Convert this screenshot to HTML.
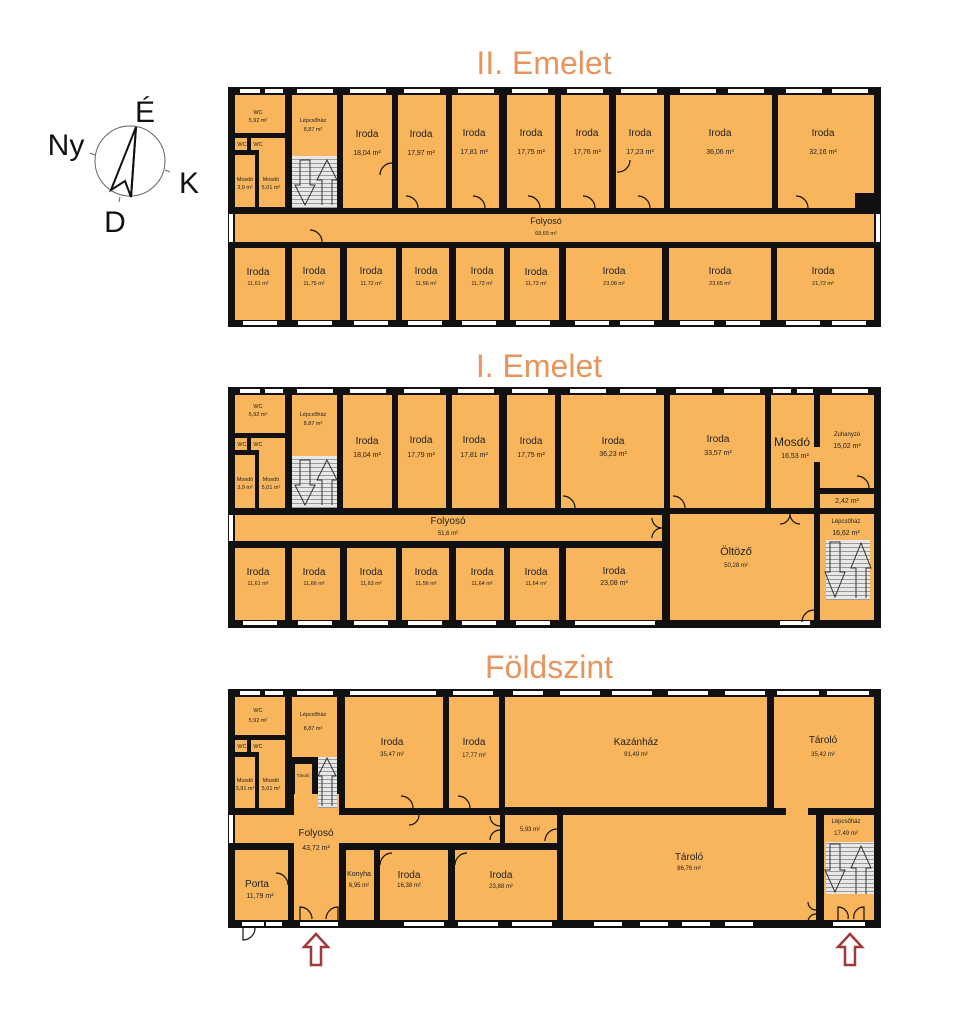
<!DOCTYPE html>
<html><head><meta charset="utf-8"><style>
body{margin:0;background:#fff}
svg text{font-family:"Liberation Sans",sans-serif;fill:#222;text-anchor:middle}
.r{fill:#f8b55b}
.w{fill:#fff}
.t{font-size:10px}
.s{font-size:5.5px}
.h{font-family:"Liberation Sans",sans-serif;fill:#e8945c;font-size:32px}
.d{fill:none;stroke:#111;stroke-width:1.2}
.a{fill:none;stroke:#333;stroke-width:1}
</style></head><body>
<svg width="961" height="1023" viewBox="0 0 961 1023" xmlns="http://www.w3.org/2000/svg">
<defs>
<pattern id="st" width="6" height="4" patternUnits="userSpaceOnUse"><rect width="6" height="4" fill="#e8e8e8"/><rect y="3" width="6" height="1" fill="#999"/></pattern>
</defs>
<text class="h" x="544" y="74" style="text-anchor:middle;fill:#e8945c">II. Emelet</text>
<text class="h" x="539" y="377" style="text-anchor:middle;fill:#e8945c">I. Emelet</text>
<text class="h" x="549" y="678" style="text-anchor:middle;fill:#e8945c">Földszint</text>

<circle cx="130" cy="161" r="35" fill="none" stroke="#666" stroke-width="1"/>
<path d="M136 127 L111 190 L125 181 L131 197 Z" fill="none" stroke="#111" stroke-width="2"/>
<line x1="136" y1="127" x2="131" y2="197" stroke="#111" stroke-width="2"/>
<line x1="90" y1="153" x2="95" y2="155" stroke="#666"/><line x1="165" y1="170" x2="170" y2="172" stroke="#666"/><line x1="120" y1="197" x2="119" y2="202" stroke="#666"/>
<text x="145" y="122" style="font-size:30px;fill:#111">É</text>
<text x="66" y="155" style="font-size:30px;fill:#111">Ny</text>
<text x="189" y="193" style="font-size:30px;fill:#111">K</text>
<text x="115" y="232" style="font-size:30px;fill:#111">D</text>

<!-- II -->
<rect x="228" y="87" width="653" height="240" fill="#111"/>
<g class="r">
<rect x="235" y="95" width="50" height="38"/>
<rect x="235" y="138" width="12" height="12"/><rect x="251" y="138" width="14" height="12"/>
<rect x="235" y="155" width="20" height="52"/><rect x="259" y="138" width="26" height="69" />
<rect x="292" y="95" width="45" height="113"/>
<rect x="343" y="95" width="49" height="113"/><rect x="398" y="95" width="48" height="113"/>
<rect x="452" y="95" width="47" height="113"/><rect x="507" y="95" width="48" height="113"/>
<rect x="561" y="95" width="48" height="113"/><rect x="616" y="95" width="48" height="113"/>
<rect x="670" y="95" width="102" height="113"/><rect x="778" y="95" width="96" height="113"/>
<rect x="235" y="214" width="639" height="28"/>
<rect x="235" y="248" width="50" height="72"/><rect x="292" y="248" width="48" height="72"/>
<rect x="347" y="248" width="49" height="72"/><rect x="402" y="248" width="47" height="72"/>
<rect x="456" y="248" width="48" height="72"/><rect x="510" y="248" width="49" height="72"/>
<rect x="566" y="248" width="96" height="72"/><rect x="669" y="248" width="102" height="72"/>
<rect x="777" y="248" width="97" height="72"/>
</g>
<rect x="292" y="156" width="45" height="52" fill="url(#st)"/>
<path class="a" d="M300 160 v25 h-5 l10 20 l10 -20 h-5 v-25 z M322 205 v-25 h-5 l10 -20 l10 20 h-5 v25"/>
<rect x="855" y="193" width="19" height="15" fill="#111"/>
<g class="w">
<rect x="240" y="89" width="20" height="4"/><rect x="265" y="89" width="18" height="4"/><rect x="297" y="89" width="36" height="4"/>
<rect x="350" y="89" width="36" height="4"/><rect x="404" y="89" width="36" height="4"/><rect x="458" y="89" width="36" height="4"/><rect x="512" y="89" width="36" height="4"/><rect x="567" y="89" width="36" height="4"/><rect x="621" y="89" width="36" height="4"/><rect x="680" y="89" width="36" height="4"/><rect x="728" y="89" width="36" height="4"/><rect x="786" y="89" width="36" height="4"/><rect x="832" y="89" width="36" height="4"/>
<rect x="243" y="321" width="34" height="4"/><rect x="298" y="321" width="34" height="4"/><rect x="354" y="321" width="34" height="4"/><rect x="408" y="321" width="34" height="4"/><rect x="462" y="321" width="34" height="4"/><rect x="516" y="321" width="34" height="4"/><rect x="575" y="321" width="34" height="4"/><rect x="620" y="321" width="34" height="4"/><rect x="680" y="321" width="34" height="4"/><rect x="726" y="321" width="34" height="4"/><rect x="786" y="321" width="34" height="4"/><rect x="832" y="321" width="34" height="4"/>
<rect x="229" y="214" width="4" height="28"/><rect x="876" y="214" width="4" height="28"/>
</g>
<path class="d" d="M380 175 a12 12 0 0 1 12 -12 M617 172 a12 12 0 0 0 13 -12 M418 208 a12 12 0 0 0 -12 -12 M485 208 a12 12 0 0 0 -12 -12 M540 208 a12 12 0 0 0 -12 -12 M595 208 a12 12 0 0 0 -12 -12 M650 208 a12 12 0 0 0 -12 -12 M808 208 a12 12 0 0 0 -12 -12 M322 242 a12 12 0 0 0 -12 -12"/>
<text class="s" x="258" y="114">WC</text><text class="s" x="258" y="122">5,92 m²</text>
<text class="s" x="313" y="122">Lépcsőház</text><text class="s" x="313" y="131">8,87 m²</text>
<text class="s" x="242" y="146">WC</text><text class="s" x="258" y="146">WC</text>
<text class="s" x="245" y="181">Mosdó</text><text class="s" x="245" y="189">3,9 m²</text>
<text class="s" x="271" y="181">Mosdó</text><text class="s" x="271" y="189">5,01 m²</text>
<g class="t"><text x="367" y="137">Iroda</text><text x="421" y="137">Iroda</text><text x="474" y="136">Iroda</text><text x="531" y="136">Iroda</text><text x="587" y="136">Iroda</text><text x="640" y="136">Iroda</text><text x="720" y="136">Iroda</text><text x="823" y="136">Iroda</text></g>
<g class="s" style="font-size:7px"><text x="367" y="155">18,04 m²</text><text x="421" y="155">17,97 m²</text><text x="474" y="154">17,81 m²</text><text x="531" y="154">17,75 m²</text><text x="587" y="154">17,76 m²</text><text x="640" y="154">17,23 m²</text><text x="720" y="154">36,06 m³</text><text x="823" y="154">32,16 m²</text></g>
<text x="546" y="224" style="font-size:9px">Folyosó</text><text class="s" x="546" y="235">68,65 m²</text>
<g class="t"><text x="258" y="275">Iroda</text><text x="314" y="274">Iroda</text><text x="371" y="274">Iroda</text><text x="426" y="274">Iroda</text><text x="482" y="274">Iroda</text><text x="536" y="275">Iroda</text><text x="614" y="274">Iroda</text><text x="720" y="274">Iroda</text><text x="823" y="274">Iroda</text></g>
<g class="s"><text x="258" y="285">11,61 m²</text><text x="314" y="285">11,75 m²</text><text x="371" y="285">11,72 m²</text><text x="426" y="285">11,56 m²</text><text x="482" y="285">11,73 m²</text><text x="536" y="285">11,73 m²</text><text x="614" y="285">23,08 m²</text><text x="720" y="285">23,65 m²</text><text x="823" y="285">21,72 m²</text></g>

<!-- I -->
<rect x="228" y="387" width="653" height="241" fill="#111"/>
<g class="r">
<rect x="235" y="395" width="50" height="38"/>
<rect x="235" y="438" width="12" height="12"/><rect x="251" y="438" width="14" height="12"/>
<rect x="235" y="455" width="20" height="53"/><rect x="259" y="438" width="26" height="70"/>
<rect x="292" y="395" width="45" height="113"/>
<rect x="343" y="395" width="49" height="113"/><rect x="398" y="395" width="48" height="113"/>
<rect x="452" y="395" width="47" height="113"/><rect x="507" y="395" width="48" height="113"/>
<rect x="561" y="395" width="103" height="113"/><rect x="670" y="395" width="95" height="113"/>
<rect x="771" y="395" width="43" height="113"/><rect x="820" y="395" width="54" height="93"/>
<rect x="808" y="447" width="20" height="15"/>
<rect x="820" y="494" width="54" height="14"/>
<rect x="235" y="515" width="427" height="26"/>
<rect x="670" y="514" width="144" height="106"/><rect x="820" y="514" width="54" height="106"/>
<rect x="235" y="548" width="50" height="72"/><rect x="292" y="548" width="48" height="72"/>
<rect x="347" y="548" width="49" height="72"/><rect x="402" y="548" width="47" height="72"/>
<rect x="456" y="548" width="48" height="72"/><rect x="510" y="548" width="49" height="72"/>
<rect x="566" y="548" width="96" height="72"/>
</g>
<rect x="292" y="456" width="45" height="52" fill="url(#st)"/>
<path class="a" d="M300 460 v25 h-5 l10 20 l10 -20 h-5 v-25 z M322 505 v-25 h-5 l10 -20 l10 20 h-5 v25"/>
<rect x="826" y="540" width="44" height="60" fill="url(#st)"/>
<path class="a" d="M830 542 v30 h-5 l10 25 l10 -25 h-5 v-30 z M856 598 v-30 h-5 l10 -25 l10 25 h-5 v30"/>
<g class="w">
<rect x="240" y="389" width="20" height="4"/><rect x="265" y="389" width="18" height="4"/><rect x="297" y="389" width="36" height="4"/>
<rect x="350" y="389" width="36" height="4"/><rect x="404" y="389" width="36" height="4"/><rect x="458" y="389" width="36" height="4"/><rect x="512" y="389" width="36" height="4"/><rect x="570" y="389" width="36" height="4"/><rect x="620" y="389" width="36" height="4"/><rect x="676" y="389" width="36" height="4"/><rect x="724" y="389" width="36" height="4"/><rect x="773" y="389" width="18" height="4"/><rect x="797" y="389" width="16" height="4"/><rect x="832" y="389" width="36" height="4"/>
<rect x="243" y="621" width="34" height="4"/><rect x="298" y="621" width="34" height="4"/><rect x="354" y="621" width="34" height="4"/><rect x="408" y="621" width="34" height="4"/><rect x="462" y="621" width="34" height="4"/><rect x="516" y="621" width="34" height="4"/><rect x="575" y="621" width="80" height="4"/><rect x="780" y="621" width="30" height="4"/>
<rect x="229" y="515" width="4" height="26"/>
</g>
<path class="d" d="M575 508 a12 12 0 0 0 -12 -12 M685 508 a12 12 0 0 0 -12 -12 M869 488 a12 12 0 0 0 -12 -12 M662 528 a10 10 0 0 1 -10 -10 M662 528 a10 10 0 0 0 -10 10 M814 610 a12 12 0 0 0 -12 12 M790 514 a10 10 0 0 1 -10 10 M790 514 a10 10 0 0 0 10 10"/>
<text class="s" x="258" y="408">WC</text><text class="s" x="258" y="416">5,92 m²</text>
<text class="s" x="313" y="416">Lépcsőház</text><text class="s" x="313" y="425">8,87 m²</text>
<text class="s" x="242" y="446">WC</text><text class="s" x="258" y="446">WC</text>
<text class="s" x="245" y="481">Mosdó</text><text class="s" x="245" y="489">3,9 m²</text>
<text class="s" x="271" y="481">Mosdó</text><text class="s" x="271" y="489">5,01 m²</text>
<g class="t"><text x="367" y="444">Iroda</text><text x="421" y="443">Iroda</text><text x="474" y="443">Iroda</text><text x="531" y="444">Iroda</text><text x="613" y="444">Iroda</text><text x="718" y="442">Iroda</text><text x="792" y="446" style="font-size:12px">Mosdó</text></g>
<g class="s" style="font-size:7px"><text x="367" y="457">18,04 m²</text><text x="421" y="457">17,79 m²</text><text x="474" y="457">17,81 m²</text><text x="531" y="457">17,75 m²</text><text x="613" y="456">36,23 m²</text><text x="718" y="455">33,57 m²</text><text x="795" y="458">16,53 m²</text><text x="847" y="436" style="font-size:6px">Zuhanyzó</text><text x="847" y="448">15,02 m²</text><text x="847" y="503">2,42 m²</text><text x="846" y="523" style="font-size:6px">Lépcsőház</text><text x="846" y="535">16,62 m²</text></g>
<text x="448" y="524" style="font-size:10px">Folyosó</text><text class="s" x="448" y="535" style="font-size:6px">51,6 m²</text>
<text x="736" y="555" style="font-size:11px">Öltöző</text><text class="s" x="736" y="567" style="font-size:6px">50,28 m²</text>
<g class="t"><text x="258" y="575">Iroda</text><text x="314" y="575">Iroda</text><text x="371" y="575">Iroda</text><text x="426" y="575">Iroda</text><text x="482" y="575">Iroda</text><text x="536" y="575">Iroda</text><text x="614" y="574">Iroda</text></g>
<g class="s"><text x="258" y="585">11,61 m²</text><text x="314" y="585">11,66 m²</text><text x="371" y="585">11,63 m²</text><text x="426" y="585">11,56 m²</text><text x="482" y="585">11,64 m²</text><text x="536" y="585">11,64 m²</text><text x="614" y="585" style="font-size:7px">23,08 m²</text></g>

<!-- Földszint -->
<rect x="228" y="689" width="653" height="239" fill="#111"/>
<g class="r">
<rect x="235" y="697" width="50" height="38"/>
<rect x="235" y="740" width="12" height="12"/><rect x="251" y="740" width="14" height="12"/>
<rect x="235" y="757" width="20" height="51"/><rect x="259" y="740" width="26" height="68"/>
<rect x="292" y="697" width="45" height="60"/><rect x="295" y="764" width="17" height="30"/>
<rect x="345" y="697" width="98" height="111"/><rect x="449" y="697" width="50" height="111"/>
<rect x="505" y="697" width="262" height="110"/><rect x="774" y="697" width="100" height="111"/>
<rect x="786" y="805" width="22" height="12"/>
<rect x="235" y="815" width="265" height="28"/><rect x="294" y="794" width="45" height="126"/>
<rect x="505" y="815" width="52" height="28"/>
<rect x="563" y="815" width="253" height="105"/><rect x="824" y="815" width="50" height="105"/>
<rect x="235" y="850" width="53" height="70"/><rect x="346" y="850" width="28" height="70"/>
<rect x="380" y="850" width="68" height="70"/><rect x="455" y="850" width="102" height="70"/>
</g>
<rect x="318" y="757" width="19" height="51" fill="url(#st)"/>
<path class="a" d="M322 806 v-30 h-4 l9 -18 l9 18 h-4 v30"/>
<rect x="826" y="842" width="48" height="52" fill="url(#st)"/>
<path class="a" d="M830 844 v26 h-5 l10 22 l10 -22 h-5 v-26 z M856 894 v-26 h-5 l10 -22 l10 22 h-5 v26"/>
<g class="w">
<rect x="240" y="691" width="20" height="4"/><rect x="265" y="691" width="18" height="4"/><rect x="297" y="691" width="36" height="4"/>
<rect x="350" y="691" width="86" height="4"/><rect x="453" y="691" width="40" height="4"/><rect x="513" y="691" width="30" height="4"/><rect x="560" y="691" width="40" height="4"/><rect x="612" y="691" width="40" height="4"/><rect x="668" y="691" width="40" height="4"/><rect x="725" y="691" width="40" height="4"/><rect x="777" y="691" width="42" height="4"/><rect x="827" y="691" width="42" height="4"/>
<rect x="242" y="922" width="22" height="4"/><rect x="266" y="922" width="16" height="4"/><rect x="300" y="922" width="38" height="4"/><rect x="404" y="922" width="40" height="4"/><rect x="458" y="922" width="40" height="4"/><rect x="512" y="922" width="40" height="4"/>
<rect x="594" y="922" width="28" height="4"/><rect x="640" y="922" width="28" height="4"/><rect x="682" y="922" width="28" height="4"/><rect x="725" y="922" width="28" height="4"/><rect x="833" y="922" width="32" height="4"/>
<rect x="229" y="815" width="4" height="28"/>
</g>
<path class="d" d="M413 808 a12 12 0 0 0 -12 -12 M470 808 a12 12 0 0 0 -12 -12 M500 826 a10 10 0 0 1 -10 -10 M500 830 a10 10 0 0 0 -10 10 M557 829 a12 12 0 0 0 -12 12 M288 885 a12 12 0 0 0 -12 -12 M380 865 a12 12 0 0 1 12 -12 M455 865 a12 12 0 0 1 12 -12 M300 920 v-13 a12 12 0 0 1 12 12 M338 920 v-13 a12 12 0 0 0 -12 12 M838 920 v-13 a10 10 0 0 1 10 12 M864 920 v-13 a10 10 0 0 0 -10 12 M816 910 a8 8 0 0 1 -8 -8 M816 914 a8 8 0 0 0 -8 8 M243 928 v12 a12 12 0 0 0 12 -12 M419 815 a10 10 0 0 1 -10 10"/>
<path d="M316 934 L304 947 L311 947 L311 965 L321 965 L321 947 L328 947 Z" fill="none" stroke="#a03a3a" stroke-width="2.5"/>
<path d="M850 934 L838 947 L845 947 L845 965 L855 965 L855 947 L862 947 Z" fill="none" stroke="#a03a3a" stroke-width="2.5"/>
<text class="s" x="258" y="712">WC</text><text class="s" x="258" y="722">5,92 m²</text>
<text class="s" x="313" y="716">Lépcsőház</text><text class="s" x="313" y="730">8,87 m²</text>
<text class="s" x="242" y="748">WC</text><text class="s" x="258" y="748">WC</text>
<text class="s" x="245" y="782">Mosdó</text><text class="s" x="245" y="790">3,91 m²</text>
<text class="s" x="271" y="782">Mosdó</text><text class="s" x="271" y="790">5,01 m²</text>
<text class="s" x="303" y="777" style="font-size:4.5px">Tároló</text>
<g class="t"><text x="392" y="745">Iroda</text><text x="474" y="745">Iroda</text><text x="636" y="745">Kazánház</text><text x="823" y="743">Tároló</text></g>
<g class="s" style="font-size:6px"><text x="392" y="756">35,47 m²</text><text x="474" y="757">17,77 m²</text><text x="636" y="756">91,49 m²</text><text x="823" y="756">35,42 m²</text><text x="530" y="831">5,93 m²</text><text x="846" y="823">Lépcsőház</text><text x="846" y="835">17,49 m²</text></g>
<text x="316" y="836" style="font-size:10px">Folyosó</text><text class="s" x="316" y="850" style="font-size:7px">43,72 m²</text>
<text x="689" y="860" class="t">Tároló</text><text class="s" x="689" y="870" style="font-size:6px">86,76 m²</text>
<text x="257" y="887" class="t">Porta</text><text class="s" x="260" y="898" style="font-size:7px">11,79 m²</text>
<text x="359" y="876" style="font-size:7px">Konyha</text><text class="s" x="359" y="887" style="font-size:6px">6,95 m²</text>
<text x="409" y="878" class="t">Iroda</text><text class="s" x="409" y="887" style="font-size:6px">16,38 m²</text>
<text x="501" y="878" class="t">Iroda</text><text class="s" x="501" y="888" style="font-size:6px">23,88 m²</text>
</svg>
</body></html>
